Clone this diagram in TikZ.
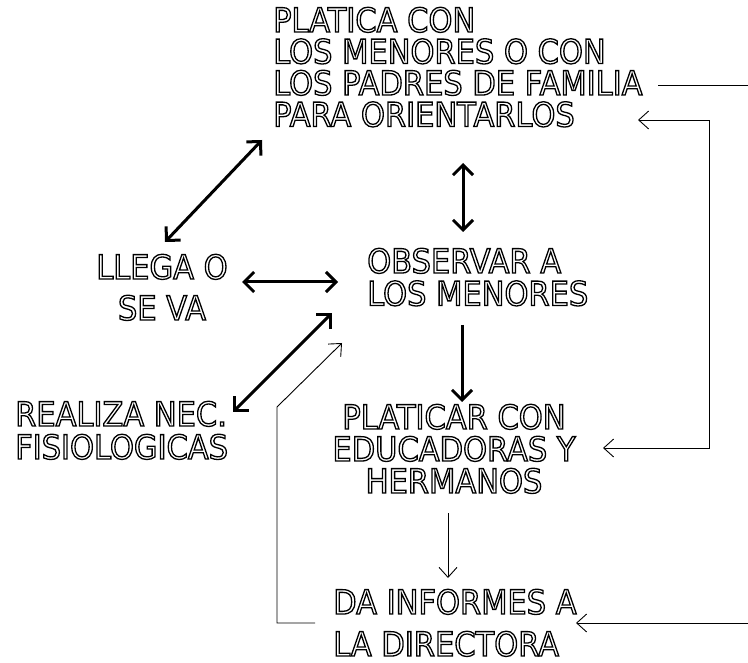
\documentclass[tikz,border=0pt]{standalone}
\usepackage{fontspec}
\newfontfamily\olfont[FakeStretch=0.91]{DejaVu Sans}
\usetikzlibrary{arrows.meta}
\tikzset{
  lbl/.style={inner sep=0pt, anchor=north west, align=left,
    font=\olfont\fontsize{33.5}{#1}\selectfont,
    execute at begin node={\special{pdf:code 1 Tr 1.3 w}},
    execute at end node={\special{pdf:code 0 Tr}}},
  lblc/.style={lbl=#1, anchor=north, align=center},
  thk/.style={line width=3pt, line join=miter},
  thn/.style={line width=0.9pt, line join=miter},
  thkdbl/.style={thk, arrows={Straight Barb[length=10pt,width=20pt]-Straight Barb[length=10pt,width=20pt]}},
  thkone/.style={thk, arrows={-Straight Barb[length=10pt,width=20pt]}},
  thnone/.style={thn, arrows={-Straight Barb[length=10pt,width=18pt]}},
  thndbl/.style={thn, arrows={Straight Barb[length=10pt,width=18pt]-Straight Barb[length=10pt,width=18pt]}},
}
\begin{document}
\begin{tikzpicture}[x=1pt,y=-1pt]
\useasboundingbox (0,0) rectangle (748,663);
% text blocks
\node[lbl=31.5] (top) at (273,7) {PLATICA CON\\LOS MENORES O CON\\LOS PADRES DE FAMILIA\\PARA ORIENTARLOS};
\node[lblc=41] (llega) at (162,254) {LLEGA O\\SE VA};
\node[lbl=32.5] (obs) at (367,248) {OBSERVAR A\\LOS MENORES};
\node[lbl=33] (real) at (15,401) {REALIZA NEC.\\FISIOLOGICAS};
\node[lblc=32] (plat) at (454,404) {PLATICAR CON\\EDUCADORAS Y\\HERMANOS};
\node[lbl=42] (da) at (333,589) {DA INFORMES A\\LA DIRECTORA};
% connector end points
\coordinate (tl1) at (262,140);
\coordinate (ll1) at (165,242);
\coordinate (ll2) at (242,282);
\coordinate (ob1) at (338,282);
\coordinate (tp2) at (463,163);
\coordinate (ob2) at (463,232);
\coordinate (ob3) at (462,325);
\coordinate (pl1) at (462,402);
\coordinate (re1) at (233,412);
\coordinate (ob4) at (332,313);
\coordinate (pl2) at (448,513);
\coordinate (da1) at (448,578);
\coordinate (da2) at (315,623);
\coordinate (k1) at (277,623);
\coordinate (k2) at (277,407);
\coordinate (ob5) at (342,343);
\coordinate (rtB) at (748,623);
\coordinate (da3) at (576,623);
\coordinate (tp3) at (658,85);
\coordinate (rtA) at (748,85);
\coordinate (tp4) at (638,120);
\coordinate (r1) at (709,120);
\coordinate (r2) at (709,448);
\coordinate (pl3) at (603,448);
% thick arrows
\draw[thkdbl] (ll1) -- (tl1);
\draw[thkdbl] (ll2) -- (ob1);
\draw[thkdbl] (tp2) -- (ob2);
\draw[thkone] (ob3) -- (pl1);
\draw[thkdbl] (re1) -- (ob4);
% thin arrows
\draw[thnone] (pl2) -- (da1);
\draw[thnone] (da2) -- (k1) -- (k2) -- (ob5);
\draw[thnone] (rtB) -- (da3);
\draw[thn] (tp3) -- (rtA);
\draw[thndbl] (tp4) -- (r1) -- (r2) -- (pl3);
\end{tikzpicture}
\end{document}
